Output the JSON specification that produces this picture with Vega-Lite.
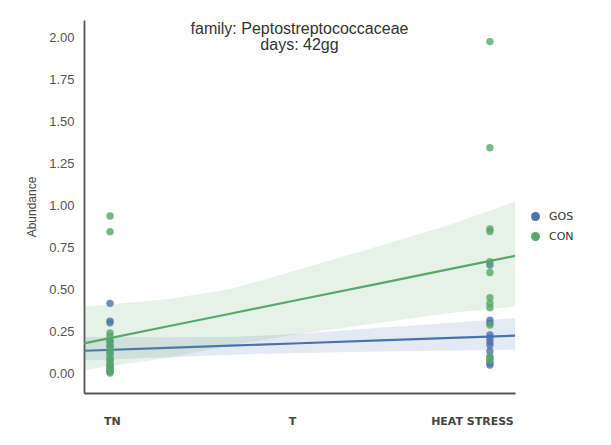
{
  "$schema": "https://vega.github.io/schema/vega-lite/v6.json",
  "width": 431,
  "height": 373,
  "autosize": {"type": "none"},
  "padding": {"left": 84, "top": 20, "right": 96, "bottom": 52},
  "background": "white",
  "title": {
    "text": ["family: Peptostreptococcaceae", "days: 42gg"],
    "font": "Liberation Sans",
    "fontSize": 16,
    "fontWeight": "normal",
    "color": "#333333",
    "anchor": "middle",
    "frame": "group",
    "baseline": "top",
    "offset": -2,
    "dy": 31,
    "lineHeight": 16
  },
  "datasets": {
    "points": [
      {"group": "GOS", "cond": 0, "abundance": 0.416},
      {"group": "GOS", "cond": 0, "abundance": 0.31},
      {"group": "GOS", "cond": 0, "abundance": 0.30},
      {"group": "GOS", "cond": 0, "abundance": 0.187},
      {"group": "GOS", "cond": 0, "abundance": 0.16},
      {"group": "GOS", "cond": 0, "abundance": 0.12},
      {"group": "GOS", "cond": 0, "abundance": 0.08},
      {"group": "GOS", "cond": 0, "abundance": 0.05},
      {"group": "GOS", "cond": 0, "abundance": 0.03},
      {"group": "GOS", "cond": 0, "abundance": 0.01},
      {"group": "GOS", "cond": 2, "abundance": 0.645},
      {"group": "GOS", "cond": 2, "abundance": 0.316},
      {"group": "GOS", "cond": 2, "abundance": 0.298},
      {"group": "GOS", "cond": 2, "abundance": 0.227},
      {"group": "GOS", "cond": 2, "abundance": 0.209},
      {"group": "GOS", "cond": 2, "abundance": 0.187},
      {"group": "GOS", "cond": 2, "abundance": 0.167},
      {"group": "GOS", "cond": 2, "abundance": 0.13},
      {"group": "GOS", "cond": 2, "abundance": 0.09},
      {"group": "GOS", "cond": 2, "abundance": 0.06},
      {"group": "GOS", "cond": 2, "abundance": 0.048},
      {"group": "CON", "cond": 0, "abundance": 0.937},
      {"group": "CON", "cond": 0, "abundance": 0.844},
      {"group": "CON", "cond": 0, "abundance": 0.24},
      {"group": "CON", "cond": 0, "abundance": 0.22},
      {"group": "CON", "cond": 0, "abundance": 0.19},
      {"group": "CON", "cond": 0, "abundance": 0.16},
      {"group": "CON", "cond": 0, "abundance": 0.13},
      {"group": "CON", "cond": 0, "abundance": 0.10},
      {"group": "CON", "cond": 0, "abundance": 0.08},
      {"group": "CON", "cond": 0, "abundance": 0.06},
      {"group": "CON", "cond": 0, "abundance": 0.04},
      {"group": "CON", "cond": 0, "abundance": 0.02},
      {"group": "CON", "cond": 0, "abundance": 0.01},
      {"group": "CON", "cond": 0, "abundance": 0.0},
      {"group": "CON", "cond": 2, "abundance": 1.978},
      {"group": "CON", "cond": 2, "abundance": 1.345},
      {"group": "CON", "cond": 2, "abundance": 0.86},
      {"group": "CON", "cond": 2, "abundance": 0.845},
      {"group": "CON", "cond": 2, "abundance": 0.665},
      {"group": "CON", "cond": 2, "abundance": 0.60},
      {"group": "CON", "cond": 2, "abundance": 0.45},
      {"group": "CON", "cond": 2, "abundance": 0.415},
      {"group": "CON", "cond": 2, "abundance": 0.39},
      {"group": "CON", "cond": 2, "abundance": 0.287},
      {"group": "CON", "cond": 2, "abundance": 0.10},
      {"group": "CON", "cond": 2, "abundance": 0.075}
    ],
    "fits": [
      {"group": "GOS", "cond": -0.137, "lo": 0.075, "fit": 0.133, "hi": 0.215},
      {"group": "GOS", "cond": 0.3, "lo": 0.095, "fit": 0.150, "hi": 0.213},
      {"group": "GOS", "cond": 0.632, "lo": 0.11, "fit": 0.1635, "hi": 0.215},
      {"group": "GOS", "cond": 1.0, "lo": 0.12, "fit": 0.178, "hi": 0.235},
      {"group": "GOS", "cond": 1.421, "lo": 0.128, "fit": 0.195, "hi": 0.27},
      {"group": "GOS", "cond": 1.8, "lo": 0.135, "fit": 0.210, "hi": 0.30},
      {"group": "GOS", "cond": 2.132, "lo": 0.14, "fit": 0.223, "hi": 0.327},
      {"group": "CON", "cond": -0.137, "lo": 0.018, "fit": 0.177, "hi": 0.396},
      {"group": "CON", "cond": 0.3, "lo": 0.09, "fit": 0.278, "hi": 0.44},
      {"group": "CON", "cond": 0.632, "lo": 0.165, "fit": 0.354, "hi": 0.50},
      {"group": "CON", "cond": 1.0, "lo": 0.235, "fit": 0.439, "hi": 0.62},
      {"group": "CON", "cond": 1.421, "lo": 0.30, "fit": 0.535, "hi": 0.76},
      {"group": "CON", "cond": 1.8, "lo": 0.36, "fit": 0.623, "hi": 0.89},
      {"group": "CON", "cond": 2.132, "lo": 0.396, "fit": 0.699, "hi": 1.023}
    ]
  },
  "encoding": {
    "x": {
      "field": "cond",
      "type": "quantitative",
      "title": null,
      "scale": {"domain": [-0.137, 2.132], "nice": false, "zero": false},
      "axis": {
        "values": [0.01, 0.958, 1.905],
        "labelExpr": "datum.value < 0.5 ? 'TN' : datum.value < 1.5 ? 'T' : 'HEAT STRESS'",
        "ticks": false,
        "grid": false,
        "domainColor": "#555555",
        "domainWidth": 1.8,
        "labelFont": "DejaVu Sans",
        "labelFontSize": 11,
        "labelFontWeight": "bold",
        "labelColor": "#444444",
        "labelPadding": 22,
        "labelFlush": false,
        "labelOverlap": false
      }
    }
  },
  "layer": [
    {
      "data": {"name": "points"},
      "transform": [{"filter": "datum.group === 'GOS'"}],
      "mark": {"type": "circle", "size": 55, "opacity": 0.8},
      "encoding": {
        "y": {
          "field": "abundance",
          "type": "quantitative",
          "title": "Abundance",
          "scale": {"domain": [-0.119, 2.107], "nice": false, "zero": false},
          "axis": {"values": [0, 0.25, 0.5, 0.75, 1.0, 1.25, 1.5, 1.75, 2.0], "format": ".2f"}
        },
        "color": {
          "field": "group",
          "type": "nominal",
          "scale": {"domain": ["GOS", "CON"], "range": ["#4C72B0", "#55A868"]}
        }
      }
    },
    {
      "data": {"name": "fits"},
      "transform": [{"filter": "datum.group === 'GOS'"}],
      "mark": {"type": "line", "color": "#4C72B0", "strokeWidth": 2.2},
      "encoding": {
        "y": {"field": "fit", "type": "quantitative", "title": "Abundance"}
      }
    },
    {
      "data": {"name": "fits"},
      "transform": [{"filter": "datum.group === 'GOS'"}],
      "mark": {"type": "area", "color": "#4C72B0", "opacity": 0.15},
      "encoding": {
        "y": {"field": "lo", "type": "quantitative", "title": "Abundance"},
        "y2": {"field": "hi"}
      }
    },
    {
      "data": {"name": "points"},
      "transform": [{"filter": "datum.group === 'CON'"}],
      "mark": {"type": "circle", "size": 55, "opacity": 0.8},
      "encoding": {
        "y": {"field": "abundance", "type": "quantitative", "title": "Abundance"},
        "color": {"field": "group", "type": "nominal"}
      }
    },
    {
      "data": {"name": "fits"},
      "transform": [{"filter": "datum.group === 'CON'"}],
      "mark": {"type": "line", "color": "#55A868", "strokeWidth": 2.2},
      "encoding": {
        "y": {"field": "fit", "type": "quantitative", "title": "Abundance"}
      }
    },
    {
      "data": {"name": "fits"},
      "transform": [{"filter": "datum.group === 'CON'"}],
      "mark": {"type": "area", "color": "#55A868", "opacity": 0.15},
      "encoding": {
        "y": {"field": "lo", "type": "quantitative", "title": "Abundance"},
        "y2": {"field": "hi"}
      }
    }
  ],
  "resolve": {"scale": {"y": "shared", "color": "shared"}},
  "config": {
    "view": {"stroke": null},
    "axisY": {
      "ticks": false,
      "grid": false,
      "domainColor": "#555555",
      "domainWidth": 1.8,
      "labelFont": "Liberation Sans",
      "labelFontSize": 13,
      "labelColor": "#555555",
      "labelPadding": 10,
      "titleFont": "Liberation Sans",
      "titleFontSize": 12,
      "titleFontWeight": "normal",
      "titleColor": "#444444",
      "titlePadding": 10
    },
    "legend": {
      "orient": "none",
      "legendX": 446,
      "legendY": 191,
      "title": null,
      "padding": 0,
      "symbolType": "circle",
      "symbolSize": 80,
      "symbolOpacity": 1,
      "labelFont": "DejaVu Sans",
      "labelFontSize": 11,
      "labelColor": "#333333",
      "labelOffset": 8,
      "rowPadding": 8
    }
  }
}
